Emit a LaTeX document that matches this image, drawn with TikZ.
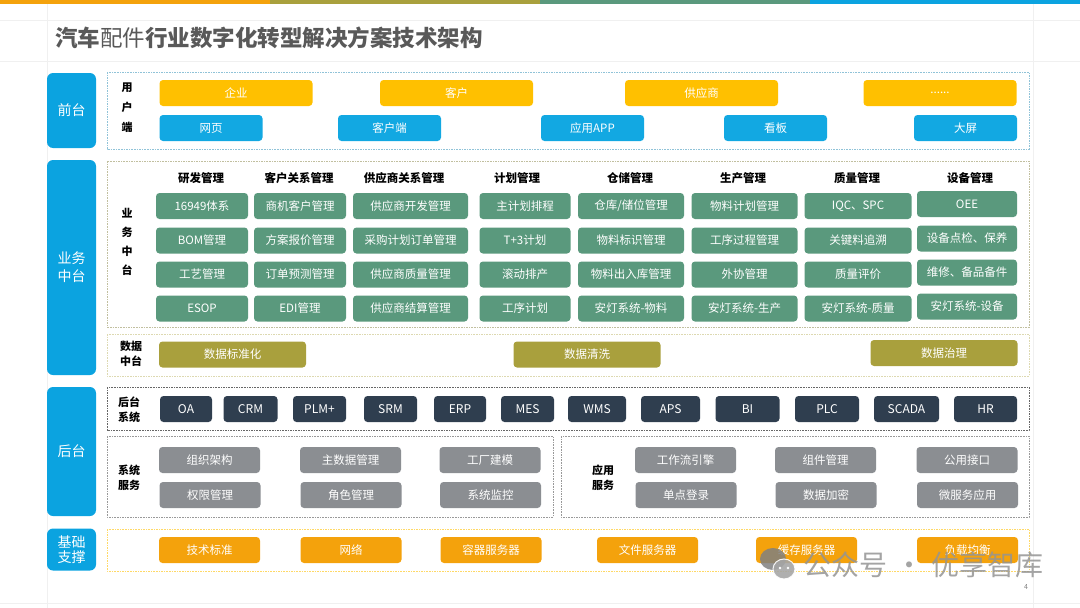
\documentclass[tikz,border=0pt]{standalone}
\usepackage{fontspec}
\setmainfont{Noto Sans CJK SC}
\definecolor{sky}{HTML}{0BA3E0}
\definecolor{gold}{HTML}{FFC000}
\definecolor{azure}{HTML}{12A8E2}
\definecolor{jade}{HTML}{5A997D}
\definecolor{moss}{HTML}{A9A03D}
\definecolor{slate}{HTML}{2F3E4F}
\definecolor{ash}{HTML}{8B8E92}
\definecolor{amber}{HTML}{F4A20C}
\definecolor{ink}{HTML}{595959}
\begin{document}
\begin{tikzpicture}[x=1pt,y=-1pt,
  box/.style={rounded corners=3.5pt,inner sep=0,minimum height=26,text=white,font=\fontsize{11.5}{13}\selectfont},
  wd/.style={minimum width=#1},
  frame/.style={draw=#1,line width=0.6pt,dash pattern=on 1.6pt off 1pt}]
  \useasboundingbox (0,0) rectangle (1080,608);
  \fill[amber] (0,0) rectangle (270,4);
  \fill[moss] (270,0) rectangle (540,4);
  \fill[jade] (540,0) rectangle (810,4);
  \fill[sky] (810,0) rectangle (1080,4);
  \draw[black!6] (47,4) -- (47,608) (1033,4) -- (1033,608) (0,20) -- (1080,20) (0,61) -- (1080,61) (0,603) -- (1080,603);
  \node[anchor=west,text=ink,inner sep=0,font=\fontsize{22.5}{26}\selectfont] (t) at (55,38) {\bfseries 汽车\mdseries 配件\bfseries 行业数字化转型解决方案技术架构};
  \draw[frame=black!25!sky!45] (107,72) rectangle (1029,149);
  \draw[frame=black!30!moss!45] (107,161) rectangle (1029,327);
  \draw[frame=moss!40] (107,334) rectangle (1029,376);
  \draw[frame=black!60] (107,387) rectangle (1029,430);
  \draw[frame=black!40] (107,436) rectangle (553,517);
  \draw[frame=black!40] (561,436) rectangle (1029,517);
  \draw[frame=gold!60] (107,529) rectangle (1029,571);
  \begin{scope}[every node/.style={fill=sky,rounded corners=6pt,text=white,minimum width=49,inner sep=0,align=center,font=\fontsize{14}{18}\selectfont}]
  \node[minimum height=75] (a) at (71.5,110.5) {前台};
  \node[minimum height=215] (b) at (71.5,267.5) {业务\\中台};
  \node[minimum height=129] (c) at (71.5,451.5) {后台};
  \node[minimum height=42,font=\fontsize{14}{15.5}\selectfont] (d) at (71.5,549.5) {基础\\支撑};
  \end{scope}
  \begin{scope}[every node/.style={align=center,inner sep=0,font=\bfseries\fontsize{11}{15}\selectfont}]
  \node[font=\bfseries\fontsize{11}{20}\selectfont] (e) at (127,108) {用\\户\\端};
  \node[font=\bfseries\fontsize{11}{19}\selectfont] (f) at (127,241.5) {业\\务\\中\\台};
  \node (g) at (131,354) {数据\\中台};
  \node (h) at (129,409.5) {后台\\系统};
  \node (i) at (129,477.5) {系统\\服务};
  \node (j) at (603,477.5) {应用\\服务};
  \end{scope}
  \begin{scope}[every node/.style={box,fill=gold,minimum width=153,minimum height=26}]
  \node (u1) at (236,93) {企业};
  \node (u2) at (456.5,93) {客户};
  \node (u3) at (701.5,93) {供应商};
  \node (u4) at (940,93) {......};
  \end{scope}
  \begin{scope}[every node/.style={box,fill=azure,minimum width=103}]
  \node (v1) at (211,128) {网页};
  \node (v2) at (389.5,128) {客户端};
  \node (v3) at (592.5,128) {应用APP};
  \node (v4) at (775.5,128) {看板};
  \node (v5) at (965.5,128) {大屏};
  \end{scope}
  \begin{scope}[every node/.style={inner sep=0,font=\bfseries\fontsize{11.5}{13}\selectfont}]
  \node (h1) at (201,178) {研发管理};
  \node (h2) at (299,178) {客户关系管理};
  \node (h3) at (404,178) {供应商关系管理};
  \node (h4) at (517,178) {计划管理};
  \node (h5) at (630,178) {仓储管理};
  \node (h6) at (743,178) {生产管理};
  \node (h7) at (857,178) {质量管理};
  \node (h8) at (970,178) {设备管理};
  \end{scope}
  \begin{scope}[every node/.style={box,fill=jade}]
  \node[wd=92] (g11) at (202,206) {16949体系};
  \node[wd=92] (g12) at (202,240.5) {BOM管理};
  \node[wd=92] (g13) at (202,274.5) {工艺管理};
  \node[wd=92] (g14) at (202,308.5) {ESOP};
  \node[wd=92] (g21) at (300,206) {商机客户管理};
  \node[wd=92] (g22) at (300,240.5) {方案报价管理};
  \node[wd=92] (g23) at (300,274.5) {订单预测管理};
  \node[wd=92] (g24) at (300,308.5) {EDI管理};
  \node[wd=115] (g31) at (410.5,206) {供应商开发管理};
  \node[wd=115] (g32) at (410.5,240.5) {采购计划订单管理};
  \node[wd=115] (g33) at (410.5,274.5) {供应商质量管理};
  \node[wd=115] (g34) at (410.5,308.5) {供应商结算管理};
  \node[wd=91] (g41) at (525,206) {主计划排程};
  \node[wd=91] (g42) at (525,240.5) {T+3计划};
  \node[wd=91] (g43) at (525,274.5) {滚动排产};
  \node[wd=91] (g44) at (525,308.5) {工序计划};
  \node[wd=106] (g51) at (631,206) {仓库/储位管理};
  \node[wd=106] (g52) at (631,240.5) {物料标识管理};
  \node[wd=106] (g53) at (631,274.5) {物料出入库管理};
  \node[wd=106] (g54) at (631,308.5) {安灯系统-物料};
  \node[wd=106] (g61) at (744.5,206) {物料计划管理};
  \node[wd=106] (g62) at (744.5,240.5) {工序过程管理};
  \node[wd=106] (g63) at (744.5,274.5) {外协管理};
  \node[wd=106] (g64) at (744.5,308.5) {安灯系统-生产};
  \node[wd=107] (g71) at (858,206) {IQC、SPC};
  \node[wd=107] (g72) at (858,240.5) {关键料追溯};
  \node[wd=107] (g73) at (858,274.5) {质量评价};
  \node[wd=107] (g74) at (858,308.5) {安灯系统-质量};
  \node[wd=100] (g81) at (967,204) {OEE};
  \node[wd=100] (g82) at (967,238.5) {设备点检、保养};
  \node[wd=100] (g83) at (967,272.5) {维修、备品备件};
  \node[wd=100] (g84) at (967,306.5) {安灯系统-设备};
  \end{scope}
  \begin{scope}[every node/.style={box,fill=moss,minimum width=147}]
  \node (d1) at (232.5,354.5) {数据标准化};
  \node (d2) at (587,354.5) {数据清洗};
  \node (d3) at (944,353) {数据治理};
  \end{scope}
  \begin{scope}[every node/.style={box,fill=slate,font=\fontsize{12}{14}\selectfont}]
  \node[wd=52] (s1) at (186,409) {OA};
  \node[wd=54] (s2) at (250.5,409) {CRM};
  \node[wd=53] (s3) at (319.5,409) {PLM+};
  \node[wd=53] (s4) at (390.5,409) {SRM};
  \node[wd=52] (s5) at (460,409) {ERP};
  \node[wd=53] (s6) at (527.5,409) {MES};
  \node[wd=58] (s7) at (597,409) {WMS};
  \node[wd=59] (s8) at (670.5,409) {APS};
  \node[wd=64] (s9) at (747.5,409) {BI};
  \node[wd=64] (s10) at (827,409) {PLC};
  \node[wd=65] (s11) at (906.5,409) {SCADA};
  \node[wd=63] (s12) at (985.5,409) {HR};
  \end{scope}
  \begin{scope}[every node/.style={box,fill=ash,minimum width=101}]
  \node (r1) at (209.5,460) {组织架构};
  \node (r2) at (350.5,460) {主数据管理};
  \node (r3) at (490,460) {工厂建模};
  \node (r4) at (210,495) {权限管理};
  \node (r5) at (351,495) {角色管理};
  \node (r6) at (490.5,495) {系统监控};
  \node (q1) at (685.5,460) {工作流引擎};
  \node (q2) at (825.5,460) {组件管理};
  \node (q3) at (967,460) {公用接口};
  \node (q4) at (686,495) {单点登录};
  \node (q5) at (826,495) {数据加密};
  \node (q6) at (967.5,495) {微服务应用};
  \end{scope}
  \begin{scope}[every node/.style={box,fill=amber,minimum width=101}]
  \node (b1) at (209.5,550) {技术标准};
  \node (b2) at (351,550) {网络};
  \node (b3) at (491,550) {容器服务器};
  \node (b4) at (647.5,550) {文件服务器};
  \node (b5) at (806.5,550) {缓存服务器};
  \node (b6) at (967.5,550) {负载均衡};
  \end{scope}
  \fill[black!50,opacity=0.85] (773,559) ellipse (13 and 11);
  \fill[black!35,opacity=0.9,draw=white,line width=1pt] (784,569) ellipse (11 and 10);
  \fill[white] (780,568) circle (1.3) (788,568) circle (1.3);
  \node[anchor=west,inner sep=0,text=black!42,opacity=0.85,font=\fontsize{28}{28}\selectfont] (w) at (803,565) {公众号\hspace{8pt}·\hspace{8pt}优享智库};
  \node[text=black!50,inner sep=0,font=\fontsize{7}{8}\selectfont] (p) at (1026,587) {4};
\end{tikzpicture}
\end{document}
